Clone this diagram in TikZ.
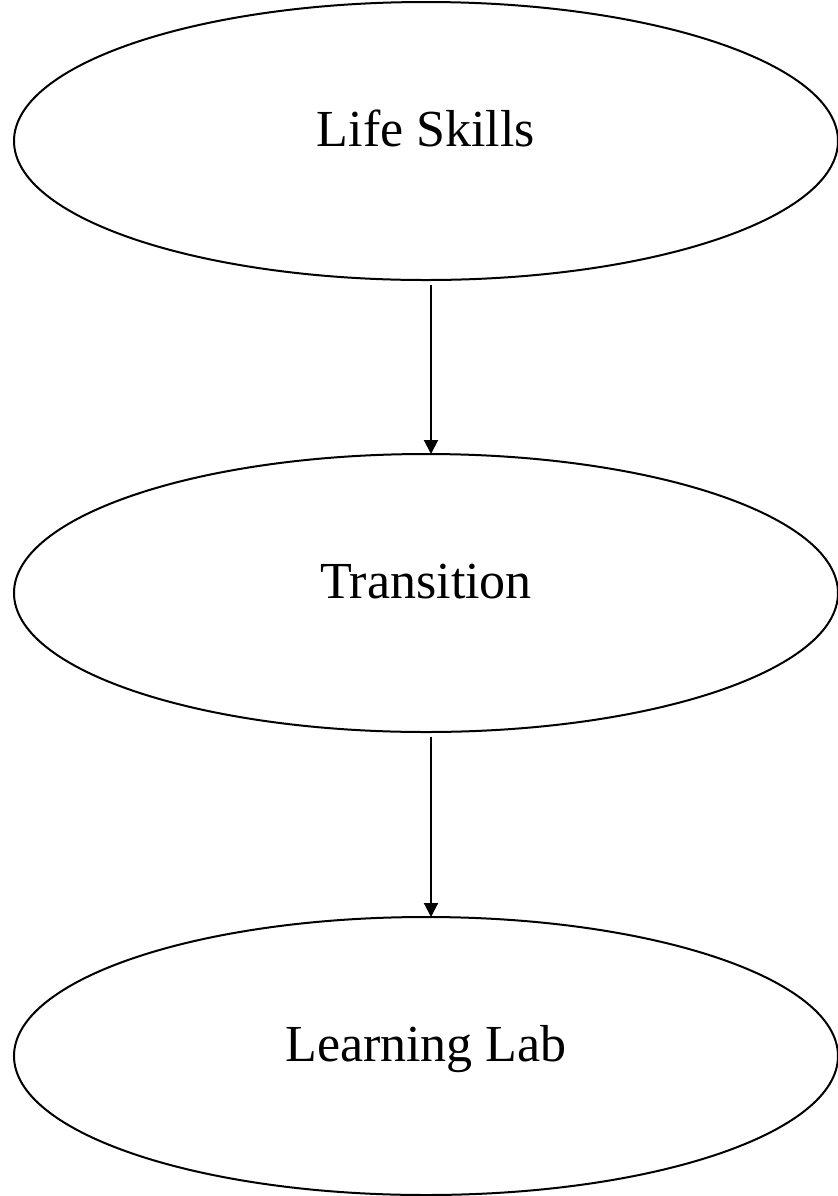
\documentclass[tikz,border=0pt]{standalone}
\usepackage{fontspec}
\setmainfont{Liberation Serif}
\usetikzlibrary{shapes.geometric,arrows.meta}

\begin{document}
\begin{tikzpicture}[>={Triangle[length=7pt,width=7pt]}, line width=1pt,
    stage/.style={ellipse, draw, inner sep=0pt, outer sep=0pt,
        minimum width=412pt, minimum height=139pt,
        text height=20pt, text depth=15pt, font=\fontsize{26}{31}\selectfont}]
    % 1. Fix the page size
    \useasboundingbox (0,0) rectangle (419pt,-598pt);

    % 2. The three stages, top to bottom
    \node[stage] (life)  at (213pt,-70.5pt) {Life Skills};
    \node[stage] (trans) at (213pt,-296.5pt) {Transition};
    \node[stage] (lab)   at (213pt,-528pt) {Learning Lab};

    % 3. Arrows between stages
    \draw[->, shorten <=2.5pt] ([xshift=2.5pt]life.south) -- ([xshift=2.5pt]trans.north);
    \draw[->, shorten <=2.5pt] ([xshift=2.5pt]trans.south) -- ([xshift=2.5pt]lab.north);
\end{tikzpicture}
\end{document}
